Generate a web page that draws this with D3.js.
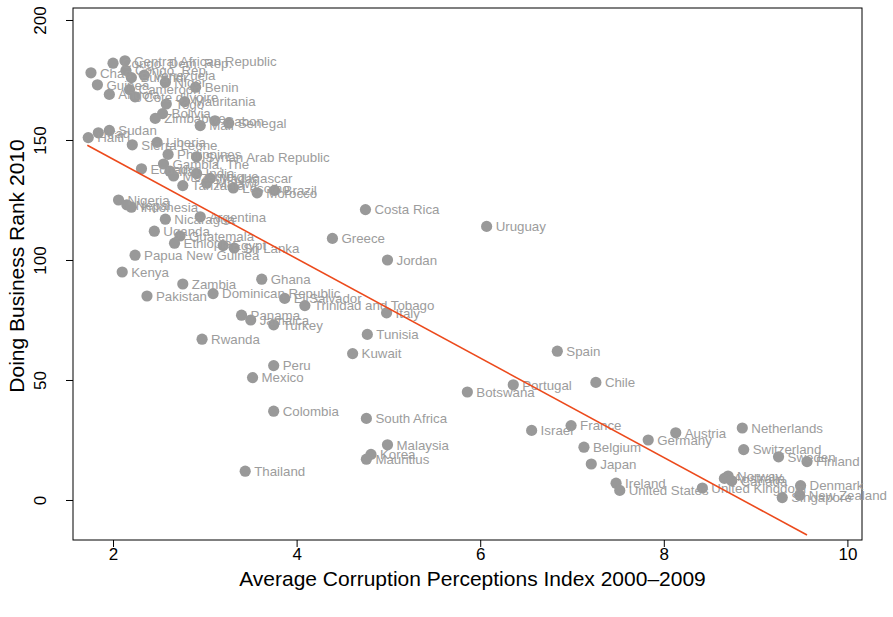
<!DOCTYPE html>
<html><head><meta charset="utf-8">
<script src="https://cdn.jsdelivr.net/npm/d3@7"></script>
<style>
  body { margin: 0; background: #fff; }
  text { font-family: "Liberation Sans", Arial, Helvetica, sans-serif; }
</style>
</head><body>
<svg id="chart" width="893" height="617"></svg>
<script>
// Country names, average corruption perceptions index 2000-2009, Doing Business rank 2010
const countries = [
  "Central African Republic", "Congo, Dem. Rep.", "Congo, Rep.", "Chad", "Venezuela",
  "Burundi", "Niger", "Guinea", "Benin", "Cameroon", "Angola", "Cote d'Ivoire",
  "Mauritania", "Togo", "Bolivia", "Zimbabwe", "Gabon", "Senegal", "Mali", "Sudan",
  "Iraq", "Haiti", "Liberia", "Sierra Leone", "Philippines", "Syrian Arab Republic",
  "Gambia, The", "Ecuador", "Iran", "Mozambique", "Madagascar", "India", "Malawi",
  "Tanzania", "Lesotho", "Brazil", "Morocco", "Nigeria", "Nepal", "Indonesia",
  "Costa Rica", "Argentina", "Nicaragua", "Uruguay", "Uganda", "Guatemala", "Greece",
  "Ethiopia", "Egypt", "Sri Lanka", "Papua New Guinea", "Jordan", "Kenya", "Ghana",
  "Zambia", "Dominican Republic", "Pakistan", "El Salvador", "Trinidad and Tobago",
  "Italy", "Panama", "Jamaica", "Turkey", "Tunisia", "Rwanda", "Spain", "Kuwait",
  "Peru", "Mexico", "Chile", "Portugal", "Botswana", "Colombia", "South Africa",
  "France", "Netherlands", "Israel", "Austria", "Germany", "Malaysia", "Belgium",
  "Switzerland", "Korea", "Sweden", "Mauritius", "Finland", "Japan", "Thailand",
  "Norway", "Australia", "Canada", "Ireland", "Denmark", "United Kingdom",
  "United States", "New Zealand", "Singapore"
];
const cpi = [
  2.13, 2.00, 2.14, 1.76, 2.34,
  2.20, 2.57, 1.83, 2.90, 2.18, 1.96, 2.24,
  2.78, 2.58, 2.54, 2.46, 3.11, 3.26, 2.95, 1.96,
  1.84, 1.73, 2.48, 2.21, 2.60, 2.91,
  2.55, 2.31, 2.62, 2.66, 3.06, 2.91, 3.02,
  2.76, 3.31, 3.76, 3.57, 2.06, 2.15, 2.20,
  4.75, 2.95, 2.57, 6.07, 2.45, 2.73, 4.39,
  2.67, 3.20, 3.32, 2.24, 4.99, 2.10, 3.62,
  2.76, 3.09, 2.37, 3.87, 4.09,
  4.98, 3.40, 3.50, 3.75, 4.77, 2.97, 6.84, 4.61,
  3.75, 3.52, 7.26, 6.36, 5.86, 3.75, 4.76,
  6.99, 8.855, 6.56, 8.13, 7.83, 4.99, 7.13,
  8.87, 4.81, 9.25, 4.76, 9.56, 7.21, 3.44,
  8.70, 8.66, 8.74, 7.48, 9.49, 8.42,
  7.52, 9.48, 9.29
];
const rank = [
  183, 182, 179, 178, 177,
  176, 174, 173, 172, 171, 169, 168,
  166, 165, 161, 159, 158, 157, 156, 154,
  153, 151, 149, 148, 144, 143,
  140, 138, 137, 135, 134, 136, 132,
  131, 130, 129, 128, 125, 123, 122,
  121, 118, 117, 114, 112, 110, 109,
  107, 106, 105, 102, 100, 95, 92,
  90, 86, 85, 84, 81,
  78, 77, 75, 73, 69, 67, 62, 61,
  56, 51, 49, 48, 45, 37, 34,
  31, 30, 29, 28, 25, 23, 22,
  21, 19, 18, 17, 16, 15, 12,
  10, 9, 8, 7, 6, 5,
  4, 2, 1
];

// Least-squares fit drawn as a segment between its two ends
const fitX = [1.72, 9.56];
const fitY = [147.8, -14.6];

const xTicks = [2, 4, 6, 8, 10];
const yTicks = [0, 50, 100, 150, 200];
const xTitle = "Average Corruption Perceptions Index 2000\u20132009";
const yTitle = "Doing Business Rank 2010";

const svg = d3.select("#chart");
const frame = { left: 73, right: 862, top: 8, bottom: 540 };

const x = d3.scaleLinear().domain([1.564, 10.159]).range([frame.left, frame.right]);
const y = d3.scaleLinear().domain([-16.67, 205]).range([frame.bottom, frame.top]);

const grey = "#999999";

// plot box
svg.append("rect")
  .attr("x", frame.left).attr("y", frame.top)
  .attr("width", frame.right - frame.left).attr("height", frame.bottom - frame.top)
  .attr("fill", "none").attr("stroke", "#000").attr("stroke-width", 1);

// x axis
const xAxis = d3.axisBottom(x).tickValues(xTicks).tickSize(7).tickPadding(1).tickFormat(d3.format("d"));
const gx = svg.append("g").attr("transform", `translate(0,${frame.bottom})`).call(xAxis);
gx.select(".domain").remove();
gx.selectAll("text").attr("font-size", 17).attr("fill", "#000")
  .attr("font-family", "'Liberation Sans', Arial, sans-serif");

// y axis with labels turned to read upward
const yAxis = d3.axisLeft(y).tickValues(yTicks).tickSize(7).tickFormat(d3.format("d"));
const gy = svg.append("g").attr("transform", `translate(${frame.left},0)`).call(yAxis);
gy.select(".domain").remove();
gy.selectAll("text")
  .attr("font-size", 17).attr("fill", "#000")
  .attr("font-family", "'Liberation Sans', Arial, sans-serif")
  .attr("text-anchor", "middle")
  .attr("x", 0).attr("dy", 0)
  .attr("transform", "translate(-27,0) rotate(-90)");

// axis titles
svg.append("text")
  .attr("x", (frame.left + frame.right) / 2 + 5).attr("y", 586)
  .attr("text-anchor", "middle").attr("font-size", 21).attr("fill", "#000")
  .text(xTitle);
svg.append("text")
  .attr("transform", `translate(24,${(frame.top + frame.bottom) / 2 - 8}) rotate(-90)`)
  .attr("text-anchor", "middle").attr("font-size", 21).attr("fill", "#000")
  .text(yTitle);

const pts = countries.map((c, i) => ({ name: c, cpi: cpi[i], rank: rank[i] }));

// points
svg.append("g").selectAll("circle").data(pts).join("circle")
  .attr("cx", d => x(d.cpi)).attr("cy", d => y(d.rank))
  .attr("r", 5.6).attr("fill", grey);

// country labels to the right of each point
svg.append("g").selectAll("text").data(pts).join("text")
  .attr("x", d => x(d.cpi) + 9).attr("y", d => y(d.rank))
  .attr("dy", "0.36em").attr("font-size", 13.3).attr("fill", "#9c9c9c")
  .text(d => d.name);

// fitted line
svg.append("line")
  .attr("x1", x(fitX[0])).attr("y1", y(fitY[0]))
  .attr("x2", x(fitX[1])).attr("y2", y(fitY[1]))
  .attr("stroke", "#ec4a1c").attr("stroke-width", 1.6);
</script>
</body></html>
